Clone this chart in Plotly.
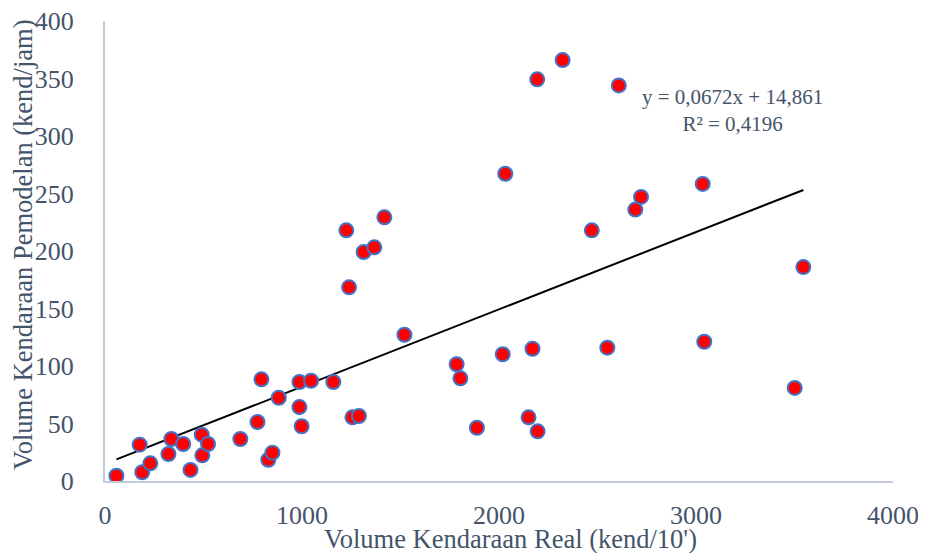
import plotly.graph_objects as go

# Data
volume_real = [58, 176, 189, 230, 322, 337, 397, 434, 491, 494, 523, 687, 774, 794, 829, 850,
               882, 987, 987, 998, 1046, 1159, 1225, 1239, 1256, 1289, 1313, 1367, 1418, 1520,
               1785, 1804, 1888, 2019, 2032, 2150, 2170, 2194, 2196, 2323, 2471, 2550, 2608,
               2692, 2721, 3034, 3042, 3501, 3545]
volume_model = [4.6, 31.6, 7.6, 15.4, 23.5, 36.5, 32.2, 9.6, 40.3, 22.3, 32.2, 36.5, 51.3, 88.4,
                18.5, 24.6, 72.4, 86.1, 64.3, 47.6, 87.2, 86.1, 218, 168.4, 55.4, 56.5, 199.1,
                203.2, 229.3, 127.2, 101.5, 89.3, 46.3, 110.2, 267.2, 55.4, 115, 349.3, 43.2,
                366, 218, 115.9, 344, 236, 247, 258.3, 121.1, 80.9, 186]

slope = 0.0672
intercept = 14.861
r_squared = "0,4196"

x_title = "Volume Kendaraan Real (kend/10')"
y_title = "Volume Kendaraan Pemodelan (kend/jam)"
x_ticks = [0, 1000, 2000, 3000, 4000]
y_ticks = [0, 50, 100, 150, 200, 250, 300, 350, 400]

font_family = "Liberation Serif, Times New Roman, serif"
text_color = "#44546A"
axis_color = "#C2CAD7"

trend_x = [min(volume_real), max(volume_real)]
trend_y = [slope * v + intercept for v in trend_x]

fig = go.Figure()
fig.add_trace(go.Scatter(
    x=trend_x, y=trend_y, mode="lines",
    line=dict(color="black", width=2), showlegend=False, hoverinfo="skip"))
fig.add_trace(go.Scatter(
    x=volume_real, y=volume_model, mode="markers",
    marker=dict(color="#FF0000", size=14, line=dict(color="#4472C4", width=2)),
    showlegend=False))

fig.add_annotation(
    x=3183, y=322, xref="x", yref="y",
    text="y = 0,0672x + 14,861<br>R² = " + r_squared,
    showarrow=False, align="center",
    font=dict(family=font_family, size=21, color=text_color))

# Axis titles placed as annotations for precise positioning
fig.add_annotation(
    x=0.515, y=-0.126, xref="paper", yref="paper", xanchor="center", yanchor="middle",
    text=x_title, showarrow=False, borderpad=0,
    font=dict(family=font_family, size=26.5, color=text_color))
fig.add_annotation(
    x=-0.104, y=0.513, xref="paper", yref="paper", xanchor="center", yanchor="middle",
    text=y_title, showarrow=False, textangle=-90, borderpad=0,
    font=dict(family=font_family, size=26.5, color=text_color))

fig.update_layout(
    width=918, height=545,
    margin=dict(l=97, r=33, t=13, b=72),
    plot_bgcolor="white", paper_bgcolor="white",
    font=dict(family=font_family, color=text_color, size=26),
)
fig.update_xaxes(
    range=[0, 4000], tickvals=x_ticks, showgrid=False, zeroline=False,
    showline=True, linecolor=axis_color, linewidth=2, ticks="",
    ticklabelstandoff=10, automargin=False, ticklabeloverflow="allow",
    tickfont=dict(family=font_family, size=26, color=text_color))
fig.update_yaxes(
    range=[0, 400], tickvals=y_ticks, showgrid=False, zeroline=False,
    showline=True, linecolor=axis_color, linewidth=2, ticks="",
    ticklabelstandoff=24, automargin=False, ticklabeloverflow="allow",
    tickfont=dict(family=font_family, size=26, color=text_color))

fig.write_html("out.html")
